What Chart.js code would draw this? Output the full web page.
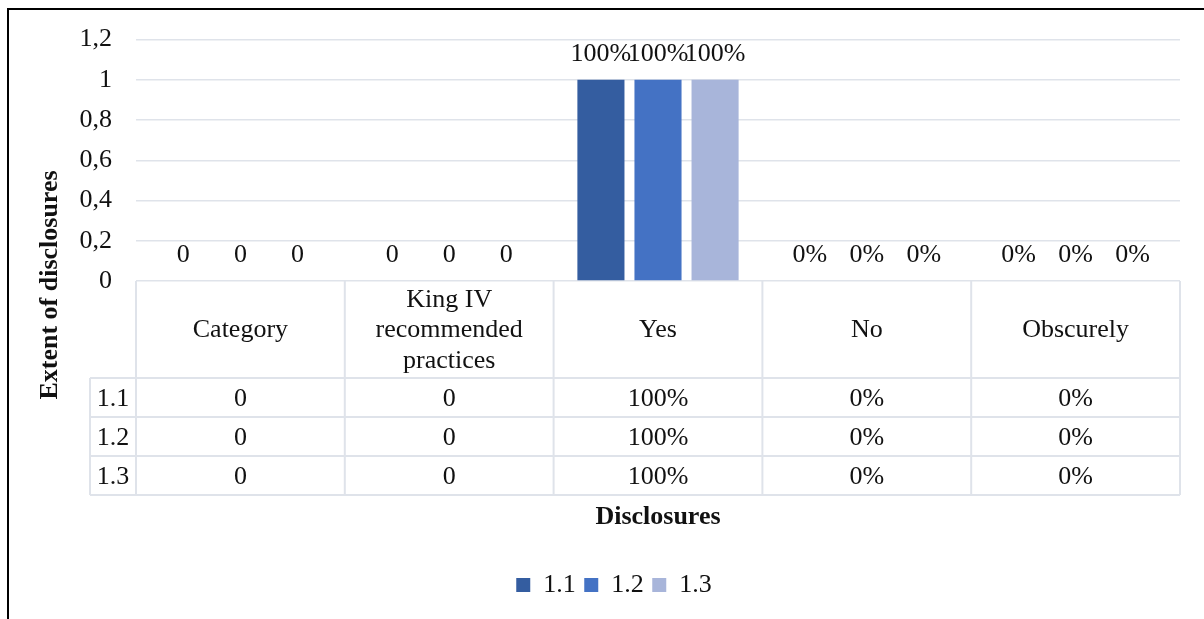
<!DOCTYPE html>
<html>
<head>
<meta charset="utf-8">
<script src="https://cdn.jsdelivr.net/npm/chart.js@4.4.0/dist/chart.umd.min.js"></script>
<style>
  html, body { margin: 0; padding: 0; background: #fff; }
  #wrap { position: relative; width: 1204px; height: 619px; overflow: hidden; }
  #frame { position: absolute; left: 7px; top: 8px; width: 1300px; height: 700px; border: 2px solid #000; box-sizing: border-box; }
  #chartDisclosures { position: absolute; left: 0; top: 0; }
</style>
</head>
<body>
<div id="wrap">
  <div id="frame"></div>
  <canvas id="chartDisclosures" width="1204" height="619"></canvas>
</div>
<script>
'use strict';

// chart data
var categories = ['Category', ['King IV', 'recommended', 'practices'], 'Yes', 'No', 'Obscurely'];
var labelFormats = ['plain', 'plain', 'percent', 'percent', 'percent'];
var seriesNames = ['1.1', '1.2', '1.3'];
var series_1_1 = [0, 0, 1, 0, 0];
var series_1_2 = [0, 0, 1, 0, 0];
var series_1_3 = [0, 0, 1, 0, 0];
var yTicks = [0, 0.2, 0.4, 0.6, 0.8, 1, 1.2];

var FONT = '"Liberation Serif", "Times New Roman", serif';
var TEXT = '#111111';
var LINE = '#dfe3ea';

function formatValue(v, fmt) {
    if (fmt === 'percent') return Math.round(v * 100) + '%';
    return String(v);
}

function formatTick(v) {
    return String(Math.round(v * 10) / 10).replace('.', ',');
}

// data table under the axis, value labels and the rotated y title
var tablePlugin = {
    id: 'dataTable',
    afterDraw: function (chart) {
        var ctx = chart.ctx;
        var x = chart.scales.x;
        var top = chart.chartArea.bottom;
        var headerH = 97, rowH = 39, keyW = 46;
        var rowsTop = top + headerH;
        var bottom = rowsTop + rowH * chart.data.datasets.length;
        var n = chart.data.labels.length;

        var edges = [x.left];
        for (var i = 1; i < n; i++) {
            edges.push((x.getPixelForValue(i - 1) + x.getPixelForValue(i)) / 2);
        }
        edges.push(x.right);

        ctx.save();
        ctx.strokeStyle = LINE;
        ctx.lineWidth = 2;
        ctx.beginPath();
        edges.forEach(function (e) {
            ctx.moveTo(e, top);
            ctx.lineTo(e, bottom);
        });
        ctx.moveTo(x.left - keyW, rowsTop);
        ctx.lineTo(x.left - keyW, bottom);
        for (var r = 0; r <= chart.data.datasets.length; r++) {
            ctx.moveTo(x.left - keyW, rowsTop + r * rowH);
            ctx.lineTo(x.right, rowsTop + r * rowH);
        }
        ctx.stroke();

        ctx.fillStyle = TEXT;
        ctx.font = '26px ' + FONT;
        ctx.textAlign = 'center';
        ctx.textBaseline = 'middle';

        // header row
        chart.data.labels.forEach(function (c, i) {
            var lines = Array.isArray(c) ? c : [c];
            var cx = x.getPixelForValue(i);
            var cy = top + headerH / 2 + 1;
            lines.forEach(function (t, k) {
                ctx.fillText(t, cx, cy + (k - (lines.length - 1) / 2) * 30.5);
            });
        });

        // one row per series
        chart.data.datasets.forEach(function (ds, r) {
            var cy = rowsTop + rowH * r + rowH / 2 + 2;
            ctx.fillText(ds.label, x.left - keyW / 2, cy);
            ds.data.forEach(function (v, i) {
                ctx.fillText(formatValue(v, labelFormats[i]), x.getPixelForValue(i), cy);
            });
        });

        // labels above the bars
        chart.data.datasets.forEach(function (ds, d) {
            chart.getDatasetMeta(d).data.forEach(function (bar, i) {
                ctx.fillText(formatValue(ds.data[i], labelFormats[i]), bar.x, bar.y - 26);
            });
        });

        ctx.translate(50, 285);
        ctx.rotate(-Math.PI / 2);
        ctx.font = 'bold 26px ' + FONT;
        ctx.fillText('Extent of disclosures', 0, 0);
        ctx.restore();
    }
};

Chart.defaults.font.family = FONT;
Chart.defaults.color = TEXT;

var ctx = document.getElementById('chartDisclosures').getContext('2d');
var chartDisclosures = new Chart(ctx, {
    type: 'bar',
    data: {
        labels: categories,
        datasets: [
            { label: seriesNames[0], data: series_1_1, backgroundColor: '#345da0' },
            { label: seriesNames[1], data: series_1_2, backgroundColor: '#4472c4' },
            { label: seriesNames[2], data: series_1_3, backgroundColor: '#a8b5da' }
        ]
    },
    options: {
        responsive: false,
        animation: false,
        layout: { padding: { left: 48, right: 24, top: 38, bottom: 11 } },
        datasets: {
            bar: { categoryPercentage: 0.82, barPercentage: 0.825 }
        },
        plugins: {
            legend: {
                position: 'bottom',
                labels: {
                    boxWidth: 14,
                    boxHeight: 14,
                    padding: 8.5,
                    color: TEXT,
                    font: { family: FONT, size: 26 }
                }
            },
            tooltip: { enabled: false }
        },
        scales: {
            x: {
                afterFit: function (scale) { scale.height = 282.5; },
                ticks: { display: false },
                grid: { display: false },
                border: { display: false },
                title: {
                    display: true,
                    text: 'Disclosures',
                    color: TEXT,
                    font: { family: FONT, size: 26, weight: 'bold' },
                    padding: { top: 0, bottom: 31 }
                }
            },
            y: {
                min: 0,
                max: 1.2,
                afterFit: function (scale) { scale.width = 88; },
                afterBuildTicks: function (scale) {
                    scale.ticks = yTicks.map(function (v) { return { value: v }; });
                },
                ticks: {
                    padding: 24,
                    color: TEXT,
                    font: { family: FONT, size: 26 },
                    callback: function (v) { return formatTick(v); }
                },
                grid: { color: LINE, lineWidth: 1.5, drawTicks: false },
                border: { display: false }
            }
        }
    },
    plugins: [tablePlugin]
});
</script>
</body>
</html>
